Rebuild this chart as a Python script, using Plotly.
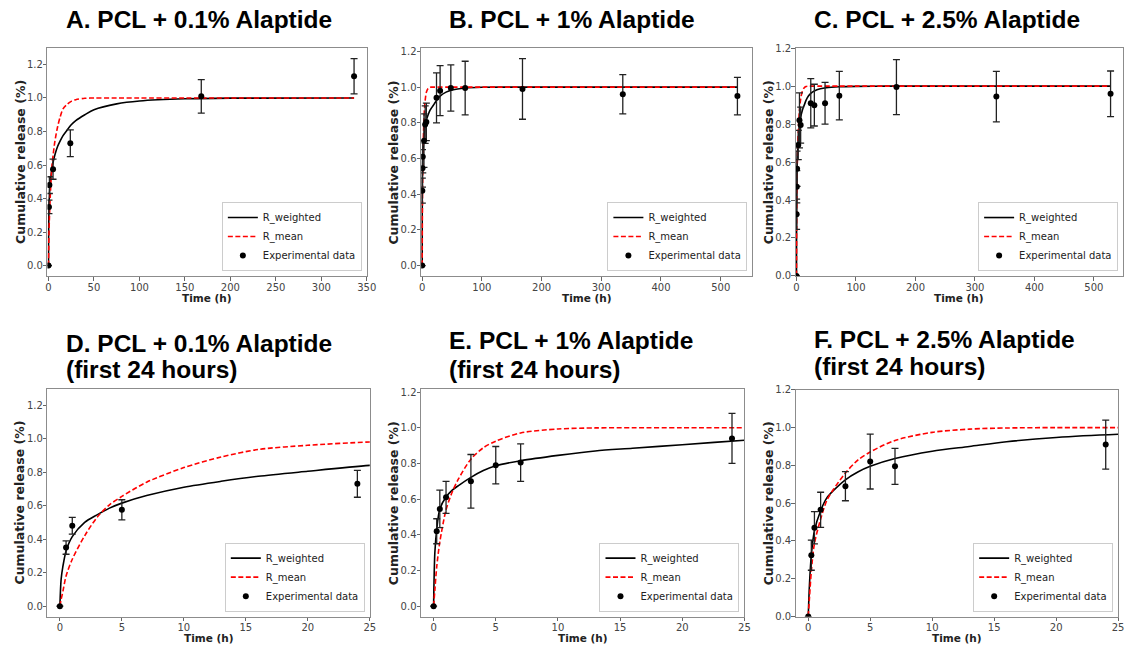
import plotly.graph_objects as go

# ---------------- data ----------------
# Experimental data: time (h), cumulative release, error (+/-)
T_01 = [0, 0.5, 1, 5, 24, 168, 336]
R_01 = [0, 0.35, 0.48, 0.575, 0.73, 1.01, 1.13]
E_01 = [0, 0.04, 0.05, 0.06, 0.08, 0.10, 0.105]

T_1 = [0, 0.25, 0.5, 1, 3, 5, 7, 24, 30, 48, 72, 168, 336, 528]
R_1 = [0, 0.42, 0.545, 0.61, 0.70, 0.79, 0.805, 0.94, 0.98, 0.995, 0.995, 0.99, 0.96, 0.95]
E_1 = [0, 0.07, 0.105, 0.09, 0.15, 0.105, 0.105, 0.14, 0.14, 0.13, 0.15, 0.17, 0.11, 0.105]

T_25 = [0, 0.25, 0.5, 1, 3, 5, 7, 24, 30, 48, 72, 168, 336, 528]
R_25 = [0, 0.325, 0.47, 0.565, 0.69, 0.82, 0.795, 0.91, 0.90, 0.91, 0.95, 0.995, 0.945, 0.96]
E_25 = [0, 0.08, 0.085, 0.093, 0.077, 0.145, 0.095, 0.13, 0.11, 0.11, 0.128, 0.145, 0.133, 0.12]

# Model curves
CT_01 = [0, 0.1, 0.25, 0.5, 1, 2, 3, 4, 5, 7, 10, 13, 16, 20, 25, 30, 40, 50, 75, 100, 150, 200, 336]
CW_01 = [0, 0.16, 0.24, 0.33, 0.415, 0.50, 0.545, 0.585, 0.615, 0.66, 0.71, 0.745, 0.775, 0.805, 0.84,
         0.865, 0.90, 0.93, 0.965, 0.982, 0.995, 0.999, 1.0]
CM_01 = [0, 0.04, 0.09, 0.18, 0.28, 0.42, 0.53, 0.605, 0.655, 0.74, 0.827, 0.89, 0.935, 0.96, 0.98,
         0.99, 0.998, 1.0, 1.0, 1.0, 1.0, 1.0, 1.0]

CT_1 = [0, 0.1, 0.25, 0.5, 1, 1.5, 2, 3, 4, 5, 7, 10, 13, 16, 20, 25, 30, 40, 50, 72, 100, 150, 250, 528]
CW_1 = [0, 0.30, 0.43, 0.545, 0.612, 0.65, 0.676, 0.722, 0.76, 0.787, 0.815, 0.845, 0.87, 0.885, 0.905,
        0.93, 0.95, 0.972, 0.984, 0.995, 0.999, 1.0, 1.0, 1.0]
CM_1 = [0, 0.09, 0.22, 0.36, 0.54, 0.64, 0.713, 0.824, 0.888, 0.925, 0.971, 0.993, 0.999, 1.0, 1.0,
        1.0, 1.0, 1.0, 1.0, 1.0, 1.0, 1.0, 1.0, 1.0]

CT_25 = [0, 0.1, 0.25, 0.5, 1, 1.5, 2, 3, 4, 5, 7, 10, 13, 16, 20, 25, 30, 40, 50, 72, 100, 150, 250, 528]
CW_25 = [0, 0.17, 0.325, 0.455, 0.56, 0.628, 0.665, 0.724, 0.765, 0.795, 0.836, 0.875, 0.90, 0.925, 0.948,
         0.965, 0.975, 0.986, 0.992, 0.997, 0.999, 1.0, 1.0, 1.0]
CM_25 = [0, 0.10, 0.24, 0.386, 0.516, 0.615, 0.67, 0.76, 0.828, 0.871, 0.932, 0.975, 0.992, 0.998, 1.0,
         1.0, 1.0, 1.0, 1.0, 1.0, 1.0, 1.0, 1.0, 1.0]

TITLES = [
    ["A. PCL + 0.1% Alaptide"],
    ["B. PCL + 1% Alaptide"],
    ["C. PCL + 2.5% Alaptide"],
    ["D. PCL + 0.1% Alaptide", "(first 24 hours)"],
    ["E. PCL + 1% Alaptide", "(first 24 hours)"],
    ["F. PCL + 2.5% Alaptide", "(first 24 hours)"],
]
X_TITLE = "Time (h)"
Y_TITLE = "Cumulative release (%)"
NAMES = ["R_weighted", "R_mean", "Experimental data"]
Y_TICKS = [0.0, 0.2, 0.4, 0.6, 0.8, 1.0, 1.2]
X_TICKS_A = [0, 50, 100, 150, 200, 250, 300, 350]
X_TICKS_BC = [0, 100, 200, 300, 400, 500]
X_TICKS_24 = [0, 5, 10, 15, 20, 25]

DATASETS = {
    "01": (T_01, R_01, E_01, CT_01, CW_01, CM_01),
    "1": (T_1, R_1, E_1, CT_1, CW_1, CM_1),
    "25": (T_25, R_25, E_25, CT_25, CW_25, CM_25),
}

# ---------------- layout (pixel geometry) ----------------
W, H = 1138, 653


def px(x):
    return x / W


def py(y):
    return 1 - y / H


panels = [
    dict(ds="01", box=(45, 368, 43, 275), xr=[-1.1, 350], yr=[-0.062, 1.297], xt=X_TICKS_A,
         tx=62, ty=[14]),
    dict(ds="1", box=(423, 758, 43, 275), xr=[-1.7, 553], yr=[-0.058, 1.218], xt=X_TICKS_BC,
         tx=449, ty=[14]),
    dict(ds="25", box=(802, 1133, 43, 275), xr=[-1.1, 549], yr=[0, 1.2], xt=X_TICKS_BC,
         tx=818, ty=[14]),
    dict(ds="01", box=(45, 371, 390, 622), xr=[-1.0, 25], yr=[-0.062, 1.297], xt=X_TICKS_24,
         tx=62, ty=[344, 370.5]),
    dict(ds="1", box=(423, 750, 390, 622), xr=[-1.0, 25], yr=[-0.058, 1.218], xt=X_TICKS_24,
         tx=449, ty=[341, 370]),
    dict(ds="25", box=(802, 1128, 391, 622), xr=[-1.0, 25], yr=[0, 1.2], xt=X_TICKS_24,
         tx=818, ty=[340, 367]),
]

fig = go.Figure()
annotations = []
layout = dict(
    width=W, height=H, autosize=False,
    margin=dict(l=0, r=0, t=0, b=0, pad=0),
    paper_bgcolor="white", plot_bgcolor="white",
    font=dict(family="DejaVu Sans", color="#222"),
)

TICK_FONT = dict(family="DejaVu Sans", size=10, color="#444")

for i, p in enumerate(panels, start=1):
    T, R, E, CT, CW, CM = DATASETS[p["ds"]]
    xa = "x" if i == 1 else f"x{i}"
    ya = "y" if i == 1 else f"y{i}"
    leg = "legend" if i == 1 else f"legend{i}"
    l, r, t, b = p["box"]

    fig.add_trace(go.Scatter(
        x=CT, y=CW, mode="lines", name=NAMES[0], legend=leg, xaxis=xa, yaxis=ya,
        line=dict(color="black", width=1.6, shape="spline", smoothing=0.8),
    ))
    fig.add_trace(go.Scatter(
        x=CT, y=CM, mode="lines", name=NAMES[1], legend=leg, xaxis=xa, yaxis=ya,
        line=dict(color="#ff0000", width=1.6, dash="5px,2.5px", shape="spline", smoothing=0.8),
    ))
    fig.add_trace(go.Scatter(
        x=T, y=R, mode="markers", name=NAMES[2], legend=leg, xaxis=xa, yaxis=ya,
        marker=dict(color="black", size=6),
        error_y=dict(type="data", array=E, visible=True, color="#222", thickness=1.3, width=3.5),
    ))

    axis_common = dict(
        showgrid=False, zeroline=False, showline=True, mirror=True,
        linecolor="#8c8c8c", linewidth=1.3,
        ticks="outside", ticklen=3.5, tickwidth=1, tickcolor="#666",
        tickfont=TICK_FONT,
    )
    layout["xaxis" if i == 1 else f"xaxis{i}"] = dict(
        axis_common, domain=[px(l), px(r)], range=p["xr"], anchor=ya,
        tickmode="array", tickvals=p["xt"], ticktext=[str(v) for v in p["xt"]],
        ticklabelstandoff=-2,
    )
    layout["yaxis" if i == 1 else f"yaxis{i}"] = dict(
        axis_common, domain=[py(b), py(t)], range=p["yr"], anchor=xa,
        tickmode="array", tickvals=Y_TICKS, ticktext=[f"{v:.1f}" for v in Y_TICKS],
        ticklabelstandoff=-2,
    )
    layout[leg] = dict(
        x=px(r - 5), y=py(b - 5), xanchor="right", yanchor="bottom",
        xref="paper", yref="paper",
        bgcolor="rgba(255,255,255,0.85)", bordercolor="#cccccc", borderwidth=1,
        font=dict(family="DejaVu Sans", size=10, color="#222"),
        itemwidth=30, tracegroupgap=0, traceorder="normal",
    )

    # panel titles
    for line, yy in zip(TITLES[i - 1], p["ty"]):
        annotations.append(dict(
            text=line, x=px(p["tx"]), y=py(yy), xref="paper", yref="paper",
            xanchor="left", yanchor="middle", showarrow=False,
            font=dict(family="Liberation Sans, Arial", size=24.5, color="black", weight="bold"),
        ))
    # axis titles
    annotations.append(dict(
        text=X_TITLE, x=px((l + r) / 2), y=py(b + 22), xref="paper", yref="paper",
        xanchor="center", yanchor="middle", showarrow=False,
        font=dict(family="DejaVu Sans", size=10.5, color="#222", weight="bold"),
    ))
    annotations.append(dict(
        text=Y_TITLE, x=px(l - 28), y=py((t + b) / 2), xref="paper", yref="paper",
        xanchor="center", yanchor="middle", showarrow=False, textangle=-90,
        font=dict(family="DejaVu Sans", size=12.5, color="#222", weight="bold"),
    ))

layout["annotations"] = annotations
fig.update_layout(**layout)

fig.write_html(
    "out.html",
    config={"displayModeBar": False},
    post_script="document.body.style.margin='0';document.body.style.padding='0';",
)
